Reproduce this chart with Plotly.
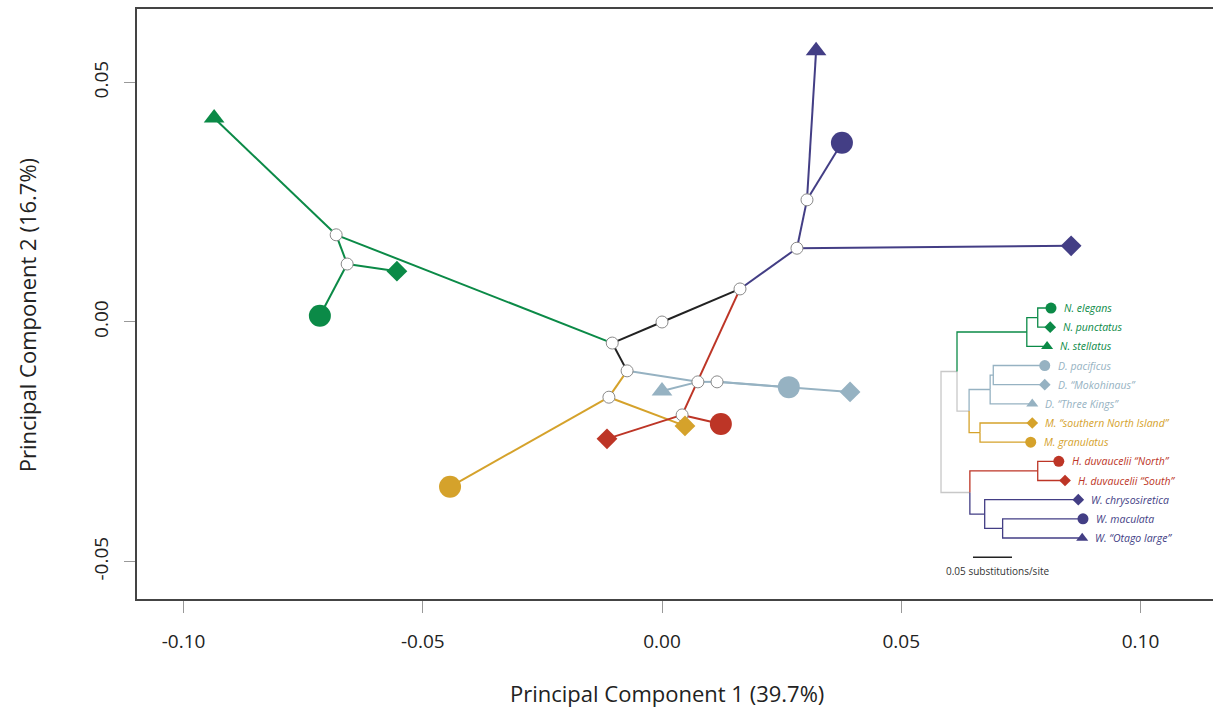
import plotly.graph_objects as go

# ---------------- PCA network data ----------------
tip_ids = ["N_el", "N_pu", "N_st", "D_pa", "D_mo", "D_tk", "M_sni", "M_gr",
           "H_n", "H_s", "W_ch", "W_ma", "W_ot"]
tip_names = ["N. elegans", "N. punctatus", "N. stellatus", "D. pacificus",
             "D. \u201cMokohinaus\u201d", "D. \u201cThree Kings\u201d",
             "M. \u201csouthern North Island\u201d", "M. granulatus",
             "H. duvaucelii \u201cNorth\u201d", "H. duvaucelii \u201cSouth\u201d",
             "W. chrysosiretica", "W. maculata", "W. \u201cOtago large\u201d"]
tip_clade = ["Naultinus"] * 3 + ["Dactylocnemis"] * 3 + ["Mokopirirakau"] * 2 + \
            ["Hoplodactylus"] * 2 + ["Woodworthia"] * 3
tip_symbol = ["circle", "diamond", "triangle-up", "circle", "diamond", "triangle-up",
              "diamond", "circle", "circle", "diamond", "diamond", "circle", "triangle-up"]
tip_pc1 = [-0.0715, -0.0554, -0.0936, 0.0265, 0.0393, 0.0000, 0.0048, -0.0443,
           0.0123, -0.0115, 0.0855, 0.0376, 0.0322]
tip_pc2 = [0.0013, 0.0106, 0.0426, -0.0136, -0.0146, -0.0144, -0.0217, -0.0344,
           -0.0213, -0.0244, 0.0159, 0.0374, 0.0566]

anc_ids = ["a1", "a2", "a3", "a4", "a5", "a6", "a7", "a8", "a9", "a10", "a11", "a12"]
anc_pc1 = [-0.0681, -0.0658, -0.0104, 0.0000, 0.0163, 0.0282, 0.0303, -0.0073,
           -0.0111, 0.0042, 0.0075, 0.0115]
anc_pc2 = [0.0182, 0.0121, -0.0044, 0.0000, 0.0069, 0.0154, 0.0255, -0.0102,
           -0.0157, -0.0194, -0.0125, -0.0125]

edge_from = ["a1", "a1", "a2", "a2", "a1",
             "a3", "a4", "a3",
             "a5", "a6", "a6", "a7", "a7",
             "a5", "a10", "a10",
             "a8", "a11", "a11", "a12", "a12",
             "a8", "a9", "a9"]
edge_to = ["N_st", "a2", "N_el", "N_pu", "a3",
           "a4", "a5", "a8",
           "a6", "W_ch", "a7", "W_ma", "W_ot",
           "a10", "H_n", "H_s",
           "a11", "D_tk", "a12", "D_pa", "D_mo",
           "a9", "M_gr", "M_sni"]
edge_group = ["Naultinus"] * 5 + ["backbone"] * 3 + ["Woodworthia"] * 5 + \
             ["Hoplodactylus"] * 3 + ["Dactylocnemis"] * 5 + ["Mokopirirakau"] * 3

# ---------------- Phylogeny inset data ----------------
tree_internal = ["root", "P", "G", "EP", "DM", "D", "DPM", "M", "Q", "H", "W", "WM"]
tree_internal_parent = [None, "root", "P", "G", "P", "DM", "D", "DM", "root", "Q", "Q", "W"]
tree_internal_depth = [0.0, 0.0205, 0.110, 0.124, 0.036, 0.063, 0.067, 0.050,
                       0.037, 0.124, 0.056, 0.079]
tree_internal_clade = [None, "tree", "Naultinus", "Naultinus", "tree", "Dactylocnemis",
                       "Dactylocnemis", "Mokopirirakau", "tree", "Hoplodactylus",
                       "Woodworthia", "Woodworthia"]
tip_tree_parent = ["EP", "EP", "G", "DPM", "DPM", "D", "M", "M", "H", "H", "W", "WM", "WM"]
tip_tree_depth = [0.141, 0.140, 0.136, 0.133, 0.133, 0.117, 0.117, 0.115,
                  0.151, 0.159, 0.176, 0.182, 0.181]
scale_bar_length = 0.05

# ---------------- styling ----------------
colors = {
    "Naultinus": "#0B8A47",
    "Dactylocnemis": "#96B2C2",
    "Mokopirirakau": "#D5A22B",
    "Hoplodactylus": "#BD3526",
    "Woodworthia": "#433E85",
    "backbone": "#222222",
    "tree": "#C8C8C8",
}
main_size = {"circle": 22, "diamond": 16, "triangle-up": 18}
tree_size = {"circle": 11, "diamond": 9, "triangle-up": 10.5}
FONT = "Open Sans"

coords = {}
for i, t in enumerate(tip_ids):
    coords[t] = (tip_pc1[i], tip_pc2[i])
for i, a in enumerate(anc_ids):
    coords[a] = (anc_pc1[i], anc_pc2[i])

fig = go.Figure()

# network edges grouped by colour
for grp in ["Naultinus", "backbone", "Mokopirirakau", "Dactylocnemis", "Hoplodactylus", "Woodworthia"]:
    xs, ys = [], []
    for f, t, g in zip(edge_from, edge_to, edge_group):
        if g == grp:
            xs += [coords[f][0], coords[t][0], None]
            ys += [coords[f][1], coords[t][1], None]
    fig.add_trace(go.Scatter(x=xs, y=ys, mode="lines",
                             line=dict(color=colors[grp], width=2),
                             hoverinfo="skip", showlegend=False))

# ancestral nodes
fig.add_trace(go.Scatter(x=anc_pc1, y=anc_pc2, mode="markers",
                         marker=dict(symbol="circle", size=12, color="white", opacity=1,
                                     line=dict(color="#8A8A8A", width=1)),
                         hoverinfo="skip", showlegend=False))

# tips
fig.add_trace(go.Scatter(
    x=tip_pc1, y=tip_pc2, mode="markers", text=tip_names, hoverinfo="text",
    marker=dict(symbol=tip_symbol, opacity=1,
                size=[main_size[s] for s in tip_symbol],
                color=[colors[c] for c in tip_clade],
                line=dict(width=0)),
    showlegend=False))

# ---------------- tree layout ----------------
depth = {}
parent = {}
clade_of = {}
for n, p, d, c in zip(tree_internal, tree_internal_parent, tree_internal_depth, tree_internal_clade):
    depth[n] = d
    parent[n] = p
    clade_of[n] = c
ypos = {}
for i, t in enumerate(tip_ids):
    depth[t] = tip_tree_depth[i]
    parent[t] = tip_tree_parent[i]
    clade_of[t] = tip_clade[i]
    ypos[t] = float(i)

children = {}
for n in list(parent):
    p = parent[n]
    if p is not None:
        children.setdefault(p, []).append(n)


def get_y(n):
    if n in ypos:
        return ypos[n]
    ch = [get_y(c) for c in children[n]]
    ypos[n] = (min(ch) + max(ch)) / 2.0
    return ypos[n]


get_y("root")

tree_groups = {}
for n in parent:
    p = parent[n]
    if p is None:
        continue
    g = clade_of[n]
    xs, ys = tree_groups.setdefault(g, ([], []))
    xs += [depth[p], depth[p], depth[n], None]
    ys += [ypos[p], ypos[n], ypos[n], None]

for g in ["tree", "Naultinus", "Dactylocnemis", "Mokopirirakau", "Hoplodactylus", "Woodworthia"]:
    xs, ys = tree_groups[g]
    fig.add_trace(go.Scatter(x=xs, y=ys, mode="lines", xaxis="x2", yaxis="y2",
                             line=dict(color=colors[g], width=1.3),
                             hoverinfo="skip", showlegend=False))

tip_y = [ypos[t] for t in tip_ids]
fig.add_trace(go.Scatter(
    x=tip_tree_depth, y=tip_y, mode="markers", xaxis="x2", yaxis="y2",
    marker=dict(symbol=tip_symbol, size=[tree_size[s] for s in tip_symbol], opacity=1,
                color=[colors[c] for c in tip_clade], line=dict(width=0)),
    hoverinfo="skip", showlegend=False))

annotations = []
for i, t in enumerate(tip_ids):
    annotations.append(dict(
        x=tip_tree_depth[i], y=tip_y[i], xref="x2", yref="y2",
        text="<i>" + tip_names[i] + "</i>", showarrow=False,
        xanchor="left", yanchor="middle", xshift=11,
        font=dict(family=FONT, size=10.5, color=colors[tip_clade[i]])))

# scale bar
sb_x0 = 0.041
sb_y = len(tip_ids)
fig.add_trace(go.Scatter(x=[sb_x0, sb_x0 + scale_bar_length], y=[sb_y, sb_y],
                         mode="lines", xaxis="x2", yaxis="y2",
                         line=dict(color="#222222", width=1.5),
                         hoverinfo="skip", showlegend=False))
annotations.append(dict(x=sb_x0 + scale_bar_length / 2 + 0.006, y=sb_y + 0.7,
                        xref="x2", yref="y2", text="0.05 substitutions/site",
                        showarrow=False, xanchor="center", yanchor="middle",
                        font=dict(family=FONT, size=10, color="#333333")))

# axis titles
annotations.append(dict(x=0.4926, y=-0.159, xref="paper", yref="paper",
                        text="Principal Component 1 (39.7%)", showarrow=False,
                        xanchor="center", yanchor="middle",
                        font=dict(family=FONT, size=22, color="#222222")))
annotations.append(dict(x=-0.1022, y=0.481, xref="paper", yref="paper",
                        text="Principal Component 2 (16.7%)", showarrow=False,
                        textangle=-90, xanchor="center", yanchor="middle",
                        font=dict(family=FONT, size=22, color="#222222")))

xticks = [-0.10, -0.05, 0.00, 0.05, 0.10]
yticks = [-0.05, 0.00, 0.05]

fig.update_layout(
    width=1213, height=711,
    margin=dict(l=137, r=0, t=9, b=112, autoexpand=False),
    paper_bgcolor="white", plot_bgcolor="white",
    font=dict(family=FONT, color="#222222"),
    annotations=annotations,
    xaxis=dict(range=[-0.10972, 0.11515], showgrid=False, zeroline=False,
               showline=True, mirror=True, linecolor="#444444", linewidth=2,
               ticks="outside", ticklen=12, tickwidth=1, tickcolor="#999999",
               tickvals=xticks, ticktext=["%.2f" % v for v in xticks],
               tickfont=dict(family=FONT, size=19, color="#222222"),
               ticklabelstandoff=12, automargin=False),
    yaxis=dict(range=[-0.05783, 0.06534], showgrid=False, zeroline=False,
               showline=True, mirror=False, linecolor="#444444", linewidth=2,
               ticks="outside", ticklen=11, tickwidth=1, tickcolor="#999999",
               tickvals=yticks, ticktext=["%.2f" % v for v in yticks],
               tickangle=-90,
               tickfont=dict(family=FONT, size=19, color="#222222"),
               ticklabelstandoff=8, automargin=False),
    xaxis2=dict(domain=[0.737, 1.0], anchor="y2", range=[-0.0141, 0.3487],
                visible=False, showgrid=False, zeroline=False),
    yaxis2=dict(domain=[0.0305, 0.5220], anchor="x2", range=[14.243, -0.887],
                visible=False, showgrid=False, zeroline=False),
)

fig.write_html("out.html", config={"displayModeBar": False},
               post_script="document.body.style.margin='0';document.body.style.overflow='hidden';")
